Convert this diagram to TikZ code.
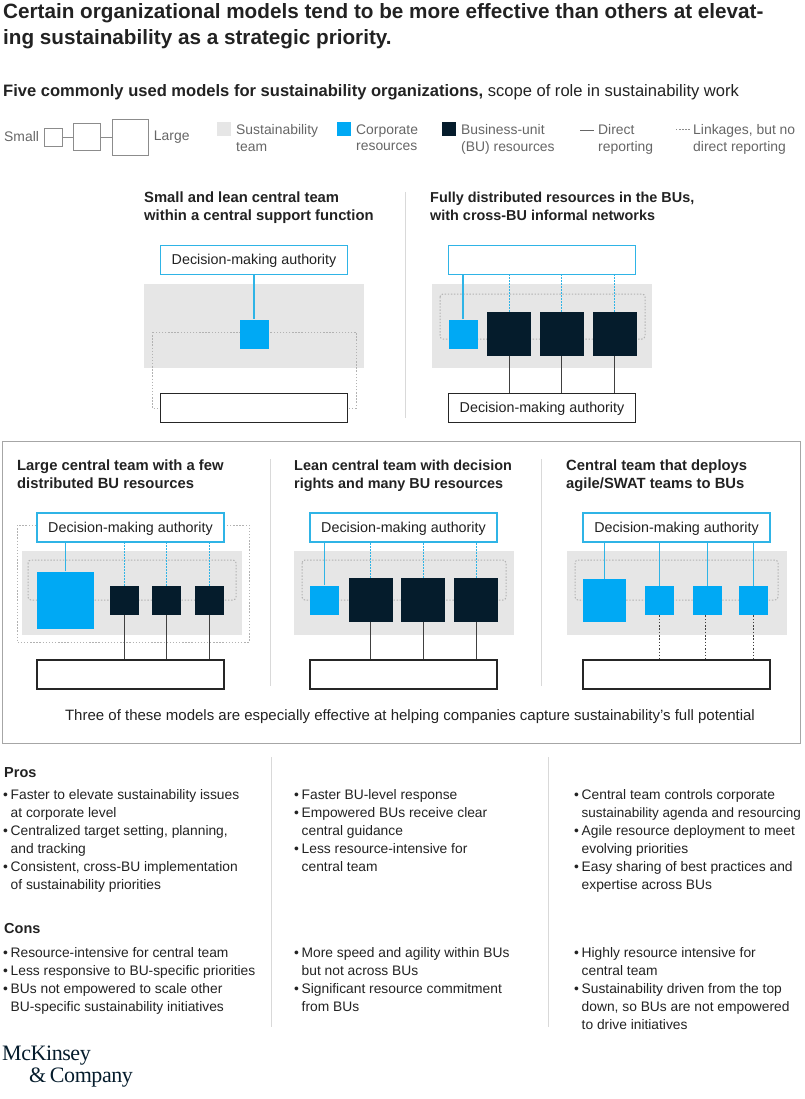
\documentclass[tikz,border=0pt]{standalone}
\usepackage{fontspec}
\setmainfont{Liberation Sans}
\newfontfamily\logofont[LetterSpace=-2]{Liberation Serif}
\usepackage{tikz}
\usetikzlibrary{positioning}
\definecolor{teamgrey}{HTML}{E6E6E6}
\definecolor{corpblue}{HTML}{00A9F4}
\definecolor{bunavy}{HTML}{051C2C}
\definecolor{boxblue}{HTML}{2FB4E6}
\definecolor{rulegrey}{HTML}{D9D9D9}
\definecolor{inkgrey}{HTML}{222222}
\definecolor{legendgrey}{HTML}{666666}
\newcommand{\itm}{\makebox[7.5pt][l]{•}}
\newcommand{\hng}{\hspace*{7.5pt}}
\tikzset{
    txt/.style={anchor=north west,inner sep=0pt,align=left,text=inkgrey},
    headline/.style={txt,font=\fontsize{20.7}{26}\selectfont\bfseries},
    subhead/.style={txt,font=\fontsize{16.55}{20}\selectfont},
    legendtxt/.style={txt,text=legendgrey,font=\fontsize{13.9}{16.5}\selectfont},
    paneltitle/.style={txt,font=\fontsize{14.8}{18}\selectfont\bfseries},
    paneltight/.style={txt,font=\fontsize{14.4}{18}\selectfont\bfseries},
    body/.style={txt,font=\fontsize{13.8}{18}\selectfont},
    bodyhead/.style={txt,font=\fontsize{14.5}{18}\selectfont\bfseries},
    authtop/.style={draw=boxblue,line width=1.4pt,fill=white,minimum width=187pt,minimum height=29pt,inner sep=0pt,text height=12pt,text depth=3pt,font=\fontsize{14.3}{16}\selectfont,text=inkgrey},
    authlow/.style={authtop,draw=black!85},
    team/.style={fill=teamgrey,minimum width=220pt,minimum height=84pt,inner sep=0pt},
    corp/.style={fill=corpblue,inner sep=0pt},
    bures/.style={fill=bunavy,inner sep=0pt},
    keybox/.style={draw=black!45,line width=0.7pt,inner sep=0pt},
    direct/.style={draw=black!75,line width=0.9pt},
    bluedirect/.style={draw=boxblue,line width=1.2pt},
    bluelink/.style={draw=boxblue,line width=1pt,dash pattern=on 1.5pt off 1.5pt},
    blacklink/.style={draw=black!75,line width=1pt,dash pattern=on 1.5pt off 1.8pt},
    linkage/.style={draw=black!30,line width=1pt,dash pattern=on 1.4pt off 1.7pt},
    divider/.style={draw=rulegrey,line width=0.7pt},
}
\begin{document}
\begin{tikzpicture}[x=1pt,y=-1pt]
    \useasboundingbox (0,0) rectangle (804,1099);

    % heading
    \node[headline] (title) at (3,3) {Certain organizational models tend to be more effective than others at elevat-\\ing sustainability as a strategic priority.};
    \node[subhead] (subtitle) at (3,84.5) {\textbf{Five commonly used models for sustainability organizations,} scope of role in sustainability work};

    % legend
    \node[legendtxt,anchor=west] (keysmall) at (4,137) {Small};
    \node[keybox,minimum size=18pt] (key1) at (53,137) {};
    \node[keybox,minimum size=27pt,right=11pt of key1] (key2) {};
    \node[keybox,minimum size=36pt,right=11pt of key2] (key3) {};
    \node[legendtxt,right=5pt of key3] (keylarge) {Large};
    \path (key1) edge[keybox] (key2) (key2) edge[keybox] (key3);
    \node[fill=teamgrey,minimum size=14pt,inner sep=0pt] (keyteam) at (224,129.5) {};
    \node[legendtxt] (keyteamtxt) at (236,124.5) {Sustainability\\team};
    \node[corp,minimum size=14pt] (keycorp) at (344,129.5) {};
    \node[legendtxt] (keycorptxt) at (356,124.5) {Corporate\\resources};
    \node[bures,minimum size=14pt] (keybu) at (449,129.5) {};
    \node[legendtxt] (keybutxt) at (461,124.5) {Business-unit\\(BU) resources};
    \coordinate (keyd1) at (580,130);
    \coordinate (keyd2) at (594,130);
    \draw[direct,draw=black!60] (keyd1) -- (keyd2);
    \node[legendtxt] (keydtxt) at (598,124.5) {Direct\\reporting};
    \coordinate (keyl1) at (676,130);
    \coordinate (keyl2) at (691,130);
    \draw[linkage,draw=black!45] (keyl1) -- (keyl2);
    \node[legendtxt] (keyltxt) at (693,124.5) {Linkages, but no\\direct reporting};

    % upper two models
    \node[paneltitle] (titleA) at (144,191.5) {Small and lean central team\\within a central support function};
    \node[paneltight] (titleB) at (430,191.5) {Fully distributed resources in the BUs,\\with cross-BU informal networks};
    \coordinate (divA1) at (405,192);
    \coordinate (divA2) at (405,418);
    \draw[divider] (divA1) -- (divA2);

    \node[team] (teamA) at (254,326) {};
    \coordinate (linkA1) at (152,332);
    \coordinate (linkA2) at (356,408);
    \draw[linkage] (linkA1) rectangle (linkA2);
    \node[authtop] (topA) at (254,260) {Decision-making authority};
    \node[corp,minimum size=29pt] (corpA) at (254,334) {};
    \node[authlow] (lowA) at (254,408) {};
    \draw[bluedirect] (topA) -- (corpA);

    \node[team] (teamB) at (542,326) {};
    \coordinate (linkB1) at (440,294);
    \coordinate (linkB2) at (645,339);
    \draw[linkage,rounded corners=3pt] (linkB1) rectangle (linkB2);
    \node[authtop] (topB) at (542,260) {};
    \node[corp,minimum size=29pt] (corpB) at (463,334) {};
    \node[bures,minimum size=44pt] (buB1) at (509,334) {};
    \node[bures,minimum size=44pt,right=8.5pt of buB1] (buB2) {};
    \node[bures,minimum size=44pt,right=8.5pt of buB2] (buB3) {};
    \node[authlow] (lowB) at (542,408) {Decision-making authority};
    \draw[bluedirect] (corpB.north) -- (corpB.north |- topB.south);
    \draw[bluelink] (buB1.north) -- (buB1.north |- topB.south);
    \draw[bluelink] (buB2.north) -- (buB2.north |- topB.south);
    \draw[bluelink] (buB3.north) -- (buB3.north |- topB.south);
    \draw[direct] (buB1.south) -- (buB1.south |- lowB.north);
    \draw[direct] (buB2.south) -- (buB2.south |- lowB.north);
    \draw[direct] (buB3.south) -- (buB3.south |- lowB.north);

    % framed three models
    \coordinate (frame1) at (2,441);
    \coordinate (frame2) at (800,743);
    \draw[draw=black!35,line width=0.8pt] (frame1) rectangle (frame2);
    \node[paneltitle] (titleC) at (17,459.5) {Large central team with a few\\distributed BU resources};
    \node[paneltight] (titleD) at (294,459.5) {Lean central team with decision\\rights and many BU resources};
    \node[paneltitle] (titleE) at (566,459.5) {Central team that deploys\\agile/SWAT teams to BUs};
    \coordinate (divC1) at (270,459);
    \coordinate (divC2) at (270,686);
    \coordinate (divD1) at (541,459);
    \coordinate (divD2) at (541,686);
    \draw[divider] (divC1) -- (divC2);
    \draw[divider] (divD1) -- (divD2);

    \node[team] (teamC) at (131.5,593) {};
    \coordinate (linkC1) at (17,525);
    \coordinate (linkC2) at (249,642);
    \draw[linkage] (linkC1) rectangle (linkC2);
    \coordinate (linkC3) at (28,560);
    \coordinate (linkC4) at (236,600);
    \draw[linkage,rounded corners=3pt] (linkC3) rectangle (linkC4);
    \node[authtop] (topC) at (130.5,527.5) {Decision-making authority};
    \node[corp,minimum size=57pt] (corpC) at (65.5,600) {};
    \node[bures,minimum size=29pt] (buC1) at (124,600.5) {};
    \node[bures,minimum size=29pt,right=13.5pt of buC1] (buC2) {};
    \node[bures,minimum size=29pt,right=13.5pt of buC2] (buC3) {};
    \node[authlow] (lowC) at (130.5,674.5) {};
    \draw[bluedirect] (corpC.north) -- (corpC.north |- topC.south);
    \draw[bluelink] (buC1.north) -- (buC1.north |- topC.south);
    \draw[bluelink] (buC2.north) -- (buC2.north |- topC.south);
    \draw[bluelink] (buC3.north) -- (buC3.north |- topC.south);
    \draw[direct] (buC1.south) -- (buC1.south |- lowC.north);
    \draw[direct] (buC2.south) -- (buC2.south |- lowC.north);
    \draw[direct] (buC3.south) -- (buC3.south |- lowC.north);

    \node[team] (teamD) at (404,593) {};
    \coordinate (linkD1) at (302,560);
    \coordinate (linkD2) at (506,600);
    \draw[linkage,rounded corners=3pt] (linkD1) rectangle (linkD2);
    \node[authtop] (topD) at (403.5,527.5) {Decision-making authority};
    \node[corp,minimum size=29pt] (corpD) at (324.5,600) {};
    \node[bures,minimum size=44pt] (buD1) at (370.5,600) {};
    \node[bures,minimum size=44pt,right=8.5pt of buD1] (buD2) {};
    \node[bures,minimum size=44pt,right=8.5pt of buD2] (buD3) {};
    \node[authlow] (lowD) at (403.5,674.5) {};
    \draw[bluedirect] (corpD.north) -- (corpD.north |- topD.south);
    \draw[bluelink] (buD1.north) -- (buD1.north |- topD.south);
    \draw[bluelink] (buD2.north) -- (buD2.north |- topD.south);
    \draw[bluelink] (buD3.north) -- (buD3.north |- topD.south);
    \draw[direct] (buD1.south) -- (buD1.south |- lowD.north);
    \draw[direct] (buD2.south) -- (buD2.south |- lowD.north);
    \draw[direct] (buD3.south) -- (buD3.south |- lowD.north);

    \node[team] (teamE) at (677,593) {};
    \coordinate (linkE1) at (575,560);
    \coordinate (linkE2) at (778,600);
    \draw[linkage,rounded corners=3pt] (linkE1) rectangle (linkE2);
    \node[authtop] (topE) at (676.5,527.5) {Decision-making authority};
    \node[corp,minimum size=43pt] (corpE) at (604.5,600.5) {};
    \node[corp,minimum size=29pt] (teamE1) at (659.5,600.5) {};
    \node[corp,minimum size=29pt] (teamE2) at (707.5,600.5) {};
    \node[corp,minimum size=29pt] (teamE3) at (753.5,600.5) {};
    \node[authlow] (lowE) at (676.5,674.5) {};
    \draw[bluedirect] (corpE.north) -- (corpE.north |- topE.south);
    \draw[bluedirect] (teamE1.north) -- (teamE1.north |- topE.south);
    \draw[bluedirect] (teamE2.north) -- (teamE2.north |- topE.south);
    \draw[bluedirect] (teamE3.north) -- (teamE3.north |- topE.south);
    \draw[blacklink] (teamE1.south) -- (teamE1.south |- lowE.north);
    \draw[blacklink] ([xshift=-2pt]teamE2.south) -- ([xshift=-2pt]teamE2.south |- lowE.north);
    \draw[blacklink] (teamE3.south) -- (teamE3.south |- lowE.north);

    \node[body,anchor=center,font=\fontsize{15}{18}\selectfont] (framenote) at (410,717) {Three of these models are especially effective at helping companies capture sustainability’s full potential};

    % pros and cons
    \coordinate (divE1) at (271,757);
    \coordinate (divE2) at (271,1027);
    \coordinate (divF1) at (548,757);
    \coordinate (divF2) at (548,1027);
    \draw[divider] (divE1) -- (divE2);
    \draw[divider] (divF1) -- (divF2);

    \node[bodyhead] (pros) at (4,767.5) {Pros};
    \node[body] (prosA) at (3,789.5) {\itm Faster to elevate sustainability issues\\\hng at corporate level\\\itm Centralized target setting, planning,\\\hng and tracking\\\itm Consistent, cross-BU implementation\\\hng of sustainability priorities};
    \node[body] (prosB) at (294,789.5) {\itm Faster BU-level response\\\itm Empowered BUs receive clear\\\hng central guidance\\\itm Less resource-intensive for\\\hng central team};
    \node[body] (prosC) at (574,789.5) {\itm Central team controls corporate\\\hng {\fontsize{13.5}{18}\selectfont sustainability agenda and resourcing}\\\itm Agile resource deployment to meet\\\hng evolving priorities\\\itm Easy sharing of best practices and\\\hng expertise across BUs};
    \node[bodyhead] (cons) at (4,923.5) {Cons};
    \node[body] (consA) at (3,947.5) {\itm Resource-intensive for central team\\\itm Less responsive to BU-specific priorities\\\itm BUs not empowered to scale other\\\hng BU-specific sustainability initiatives};
    \node[body] (consB) at (294,947.5) {\itm More speed and agility within BUs\\\hng but not across BUs\\\itm Significant resource commitment\\\hng from BUs};
    \node[body] (consC) at (574,947.5) {\itm Highly resource intensive for\\\hng central team\\\itm Sustainability driven from the top\\\hng down, so BUs are not empowered\\\hng to drive initiatives};

    % logo
    \node[txt,text=bunavy,font=\logofont\fontsize{22}{22}\selectfont] (logo) at (2,1046) {McKinsey\\\hspace*{27pt}\&\,Company};
\end{tikzpicture}
\end{document}
